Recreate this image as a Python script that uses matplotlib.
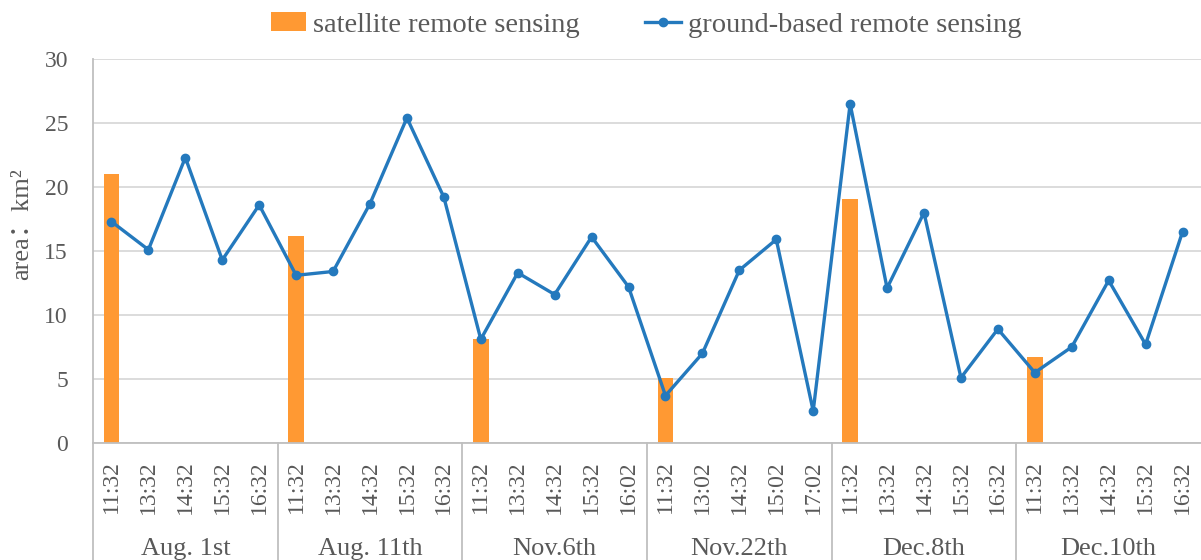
import matplotlib.pyplot as plt
import matplotlib.transforms as mtransforms
import numpy as np

plt.rcParams['font.family'] = ['Liberation Serif', 'Noto Sans CJK SC', 'DejaVu Sans']

groups = ['Aug. 1st', 'Aug. 11th', 'Nov.6th', 'Nov.22th', 'Dec.8th', 'Dec.10th']
times = [
    ['11:32', '13:32', '14:32', '15:32', '16:32'],
    ['11:32', '13:32', '14:32', '15:32', '16:32'],
    ['11:32', '13:32', '14:32', '15:32', '16:02'],
    ['11:32', '13:02', '14:32', '15:02', '17:02'],
    ['11:32', '13:32', '14:32', '15:32', '16:32'],
    ['11:32', '13:32', '14:32', '15:32', '16:32'],
]
satellite = [21.0, 16.2, 8.1, 5.1, 19.1, 6.7]  # only at first time of each day
ground = [
    17.3, 15.1, 22.3, 14.3, 18.6,
    13.1, 13.4, 18.7, 25.4, 19.2,
    8.1, 13.3, 11.6, 16.1, 12.2,
    3.7, 7.0, 13.5, 15.9, 2.5,
    26.5, 12.1, 18.0, 5.1, 8.9,
    5.5, 7.5, 12.7, 7.7, 16.5,
]

ORANGE = '#FF9933'
BLUE = '#2479BD'
TXT = '#595959'
GRID = '#D9D9D9'
EDGE = '#BFBFBF'


def main() -> None:
    labels = [t for g in times for t in g]
    x = np.arange(len(labels))
    n_per = len(times[0])
    bar_x = [i * n_per for i in range(len(groups))]

    fig = plt.figure(figsize=(12.01, 5.6), dpi=100)
    ax = fig.add_axes([93 / 1201, 1 - 443 / 560, 1 - 93 / 1201, 384 / 560])

    bars = ax.bar(bar_x, satellite, width=0.42, color=ORANGE, zorder=2)
    line, = ax.plot(x, ground, color=BLUE, lw=2.4, marker='o', ms=6, zorder=3)

    ax.set_xlim(-0.5, len(labels) - 0.5)
    ax.set_ylim(0, 30)
    ax.set_yticks(range(0, 31, 5))
    ax.yaxis.grid(True, color=GRID, lw=1.3, zorder=0)
    ax.tick_params(axis='y', length=0, labelsize=17, labelcolor=TXT, pad=18)
    ax.set_xticks([])
    for s in ['top', 'right']:
        ax.spines[s].set_visible(False)
    for s in ['left', 'bottom']:
        ax.spines[s].set_color(EDGE)
        ax.spines[s].set_linewidth(1.3)

    ax.set_ylabel('area：km²', fontsize=19, color=TXT)
    ax.yaxis.set_label_coords(-0.054, 0.57)

    trans = mtransforms.blended_transform_factory(ax.transData, ax.transAxes)
    for xi, lab in zip(x, labels):
        ax.text(xi, -0.044, lab, rotation=90, ha='center', va='top',
                fontsize=17, color=TXT, transform=trans)
    for gi, g in enumerate(groups):
        center = gi * n_per + (n_per - 1) / 2
        ax.text(center, -0.276, g, ha='center', va='center', fontsize=19,
                color=TXT, transform=trans)
        ax.plot([gi * n_per - 0.5] * 2, [0, -0.32], color=EDGE, lw=1.3,
                transform=trans, clip_on=False)

    fig.legend([bars, line], ['satellite remote sensing', 'ground-based remote sensing'],
               loc='center', bbox_to_anchor=(0.538, 0.955), ncol=2,
               frameon=False, fontsize=20.5, labelcolor=TXT,
               handlelength=1.25, handleheight=0.65, handletextpad=0.25,
               columnspacing=2.3)

    fig.savefig('out.png', dpi=100)


if __name__ == '__main__':
    main()
